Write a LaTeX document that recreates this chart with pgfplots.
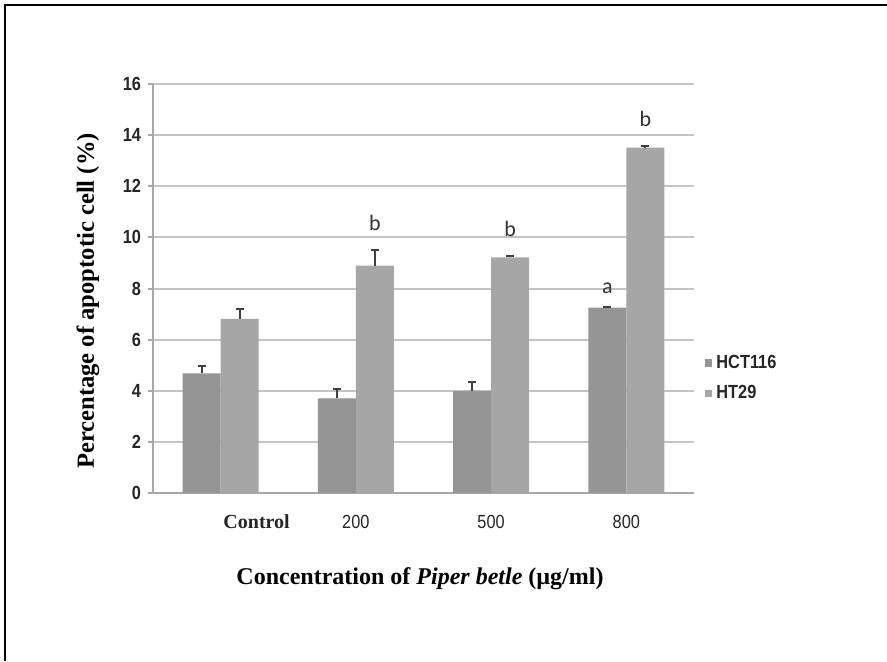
\documentclass[border=0pt]{standalone}
\usepackage{fontspec}
\setmainfont{Liberation Serif}
\newfontfamily\nsans[FakeStretch=0.86]{Liberation Sans}
\newfontfamily\calfont{Carlito}
\usepackage{pgfplots}
\pgfplotsset{compat=1.18}
\definecolor{barA}{HTML}{959595}
\definecolor{barB}{HTML}{A6A6A6}
\definecolor{gridc}{HTML}{C4C4C4}
\definecolor{axc}{HTML}{A8A8A8}
\begin{document}
\begin{tikzpicture}[x=0.5pt,y=0.5pt]
\useasboundingbox (0,0) rectangle (887,661);
\fill[white] (0,0) rectangle (887,661);
\draw[line width=1.3pt,black] (5,0) -- (5,656) -- (887,656);
\coordinate (O) at (153,168);
\begin{axis}[
  at={(O)}, anchor=south west,
  scale only axis, width=270.5pt, height=204.5pt,
  xmin=-0.5, xmax=3.5, ymin=0, ymax=16,
  ytick={0,2,...,16},
  xtick={0,1,2,3},
  xticklabels={{\hspace*{36pt}\rmfamily\bfseries\fontsize{10}{12}\selectfont Control},200,500,800},
  xticklabel style={font=\nsans\fontsize{9.5}{11}\selectfont, text=black!85, yshift=-5pt, anchor=north},
  yticklabel style={font=\nsans\bfseries\fontsize{9.5}{11}\selectfont, text=black!85},
  /pgf/number format/assume math mode=true,
  ymajorgrids, grid style={line width=1pt, gridc},
  axis x line*=bottom, axis y line*=left,
  axis line style={line width=1pt, axc, -},
  tick align=outside, major tick length=2.5pt,
  ytick style={line width=1pt, axc},
  xtick style={draw=none},
  ybar=0pt, bar width=0.281,
  legend style={at={(1.02,0.281)}, anchor=west, draw=none, fill=none,
    font=\nsans\bfseries\fontsize{9.5}{11}\selectfont, text=black!85,
    row sep=3pt, inner sep=0pt},
  legend cell align=left,
  legend image code/.code={\fill[#1] (0pt,-1.8pt) rectangle (3.6pt,1.8pt);},
  clip=false,
]
\addplot[fill=barA, draw=none, bar shift=-0.1405,
  error bars/.cd, y dir=plus, y explicit,
  error bar style={line width=0.9pt, black!75},
  error mark options={rotate=90, mark size=2pt, line width=0.9pt, black!75}]
  coordinates {(0,4.68) +- (0,0.29) (1,3.70) +- (0,0.36) (2,4.00) +- (0,0.35) (3,7.25) +- (0,0.04)};
\addplot[fill=barB, draw=none, bar shift=0.1405,
  error bars/.cd, y dir=plus, y explicit,
  error bar style={line width=0.9pt, black!75},
  error mark options={rotate=90, mark size=2pt, line width=0.9pt, black!75}]
  coordinates {(0,6.81) +- (0,0.38) (1,8.90) +- (0,0.60) (2,9.22) +- (0,0.05) (3,13.51) +- (0,0.05)};
\legend{HCT116,HT29}
\node[anchor=base, font=\calfont\fontsize{11}{13}\selectfont, text=black!80] at (axis cs:1.1405,10.25) {b};
\node[anchor=base, font=\calfont\fontsize{11}{13}\selectfont, text=black!80] at (axis cs:2.1405,10.02) {b};
\node[anchor=base, font=\calfont\fontsize{11}{13}\selectfont, text=black!80] at (axis cs:2.8595,7.82) {a};
\node[anchor=base, font=\calfont\fontsize{11}{13}\selectfont, text=black!80] at (axis cs:3.1405,14.32) {b};
\end{axis}
\node[rotate=90, font=\bfseries\fontsize{12.3}{14}\selectfont] at (88,360) {Percentage of apoptotic cell (\%)};
\node[font=\bfseries\fontsize{12}{14}\selectfont] at (420,82) {Concentration of \textit{Piper betle} (\textmu g/ml)};
\end{tikzpicture}
\end{document}
